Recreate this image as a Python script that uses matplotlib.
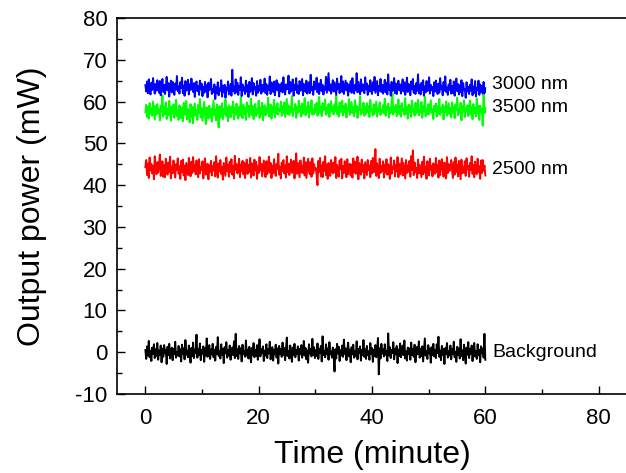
import numpy as np
import matplotlib
matplotlib.use("Agg")
import matplotlib.pyplot as plt
from matplotlib.ticker import MultipleLocator

plt.rcParams['font.family'] = ['Liberation Sans', 'DejaVu Sans']
plt.rcParams['axes.unicode_minus'] = False

power_3000 = [
    63.9, 62.4, 64.8, 62.0, 65.3, 63.1, 61.7, 64.5, 62.8, 65.6, 63.4, 61.9, 64.2, 62.6, 65.1, 63.7, 62.1, 64.9, 61.5, 63.8,
    65.4, 62.3, 64.0, 61.8, 63.5, 65.9, 62.7, 64.4, 61.2, 63.9, 65.0, 62.2, 64.7, 63.0, 61.6, 64.3, 62.9, 66.1, 62.5, 63.6,
    61.9, 64.6, 63.2, 65.7, 62.0, 63.8, 61.4, 64.9, 62.6, 63.3, 65.2, 61.7, 64.1, 62.8, 65.5, 63.6, 62.3, 64.4, 61.1, 63.9,
    64.8, 62.5, 63.7, 61.6, 65.0, 62.9, 64.3, 61.3, 63.5, 62.1, 64.7, 62.4, 63.9, 61.0, 64.5, 62.7, 63.2, 65.4, 61.8, 63.0,
    62.2, 64.1, 60.6, 63.4, 62.0, 64.6, 61.5, 63.1, 62.6, 65.1, 61.2, 63.8, 62.3, 64.0, 60.9, 63.3, 62.7, 64.8, 61.7, 62.9,
    64.2, 61.4, 67.6, 62.5, 63.6, 61.9, 65.3, 62.2, 64.5, 61.6, 63.7, 62.8, 65.8, 61.3, 64.1, 62.6, 63.4, 61.8, 65.0, 62.4,
    63.9, 61.1, 64.7, 62.3, 63.0, 65.6, 61.7, 64.4, 62.9, 63.5, 61.4, 64.9, 62.1, 63.8, 62.6, 65.2, 61.9, 64.0, 62.4, 63.3,
    65.5, 62.0, 64.2, 61.6, 63.7, 62.8, 66.0, 61.8, 64.6, 63.1, 62.3, 64.8, 61.5, 63.6, 65.1, 62.7, 64.3, 61.2, 63.9, 62.5,
    64.5, 62.2, 65.8, 63.0, 61.7, 64.1, 62.9, 63.6, 66.2, 61.9, 64.7, 62.4, 63.2, 65.3, 61.4, 64.0, 62.8, 65.6, 62.1, 63.8,
    61.8, 64.9, 62.6, 63.4, 65.4, 61.5, 64.2, 63.1, 62.3, 65.0, 61.9, 63.7, 64.6, 62.0, 66.4, 62.7, 63.5, 61.6, 64.8, 62.9,
    63.6, 65.7, 62.2, 64.3, 61.8, 63.9, 65.2, 62.5, 64.0, 61.7, 63.4, 62.8, 65.9, 62.1, 64.5, 66.8, 62.6, 64.1, 61.9, 63.7,
    65.1, 62.4, 64.6, 63.0, 61.6, 65.5, 62.9, 64.2, 62.0, 63.8, 66.1, 62.3, 64.8, 61.8, 63.5, 65.0, 62.7, 64.4, 61.4, 63.9,
    62.6, 64.9, 62.1, 65.6, 63.3, 61.9, 64.0, 62.8, 66.8, 62.2, 64.7, 63.1, 61.7, 65.3, 62.5, 64.1, 63.6, 62.0, 65.8, 62.9,
    64.3, 61.6, 63.8, 62.4, 65.1, 63.0, 61.8, 64.6, 62.7, 65.9, 62.1, 63.5, 64.9, 61.5, 63.7, 62.6, 65.4, 62.3, 64.0, 61.9,
    63.4, 65.2, 62.2, 64.5, 61.7, 66.5, 62.8, 63.9, 61.4, 64.7, 62.5, 63.2, 65.6, 62.0, 64.3, 61.8, 63.6, 65.0, 62.7, 64.1,
    61.9, 63.8, 65.3, 62.4, 64.6, 61.6, 63.1, 65.7, 62.3, 64.2, 63.0, 61.5, 64.8, 62.9, 65.4, 62.1, 63.7, 61.8, 64.4, 62.6,
    66.5, 62.0, 63.9, 61.7, 64.5, 62.8, 65.1, 61.4, 63.6, 62.2, 64.9, 62.5, 63.3, 65.8, 61.9, 64.0, 62.7, 63.5, 61.3, 64.6,
    62.4, 65.0, 63.2, 61.8, 64.3, 62.1, 65.6, 62.9, 63.8, 61.5, 64.7, 62.6, 66.0, 62.3, 63.4, 61.6, 64.1, 62.8, 65.2, 61.9,
    63.7, 62.0, 64.8, 61.4, 63.1, 65.5, 62.5, 64.2, 61.7, 63.9, 62.2, 65.1, 61.3, 64.4, 62.7, 63.0, 60.9, 64.6, 62.4, 63.5,
    61.8, 64.0, 62.6, 65.3, 61.5, 63.6, 62.1, 64.9, 61.2, 63.3, 62.8, 65.0, 61.6, 64.1, 62.3, 63.7, 61.9, 64.7, 62.0, 63.2,
]

power_3500 = [
    57.4, 59.2, 56.3, 58.7, 55.9, 59.6, 57.1, 58.4, 56.6, 60.0, 57.8, 55.7, 58.9, 56.9, 59.4, 57.3, 58.1, 55.5, 59.0, 57.6,
    61.5, 56.4, 58.6, 57.0, 59.8, 55.8, 58.3, 56.7, 60.2, 57.5, 55.4, 58.8, 57.2, 59.3, 56.1, 58.0, 60.4, 56.5, 57.9, 55.6,
    59.1, 57.4, 56.0, 58.5, 55.3, 59.7, 57.0, 56.8, 60.1, 55.7, 58.2, 57.6, 55.0, 59.4, 56.3, 58.7, 54.8, 57.9, 59.5, 56.6,
    58.0, 55.6, 59.2, 57.3, 60.6, 56.2, 58.4, 55.4, 57.7, 59.9, 56.9, 54.6, 58.6, 57.1, 55.9, 59.0, 56.4, 58.3, 55.2, 57.8,
    60.3, 56.7, 58.1, 55.5, 59.3, 57.4, 53.8, 58.9, 56.1, 57.6, 59.6, 55.8, 58.2, 57.0, 60.5, 56.5, 58.6, 55.3, 59.1, 57.5,
    56.2, 58.8, 57.2, 60.0, 55.7, 58.4, 56.9, 59.5, 57.3, 55.9, 58.7, 56.6, 61.0, 57.8, 56.0, 59.2, 57.1, 58.5, 55.6, 59.8,
    57.6, 59.0, 56.3, 58.3, 60.7, 56.8, 58.9, 55.8, 57.9, 59.4, 56.5, 58.1, 57.3, 60.2, 56.1, 58.6, 57.0, 59.7, 55.5, 58.2,
    59.1, 56.7, 58.5, 57.4, 60.9, 56.4, 58.0, 59.3, 55.9, 58.7, 57.5, 60.4, 56.2, 58.8, 57.1, 59.6, 56.9, 58.3, 57.7, 60.0,
    56.6, 58.9, 57.2, 59.8, 56.3, 58.4, 60.6, 57.0, 59.1, 56.8, 58.6, 57.5, 61.3, 56.5, 58.2, 57.9, 59.4, 56.1, 58.7, 57.3,
    60.2, 57.6, 58.9, 56.4, 59.5, 57.1, 58.3, 60.8, 56.7, 58.6, 57.4, 59.9, 56.2, 58.8, 57.8, 60.3, 56.9, 58.1, 57.0, 59.2,
    57.5, 59.7, 56.6, 58.4, 61.1, 57.3, 58.8, 56.5, 59.6, 57.9, 58.2, 60.5, 56.8, 58.5, 57.2, 59.4, 56.3, 58.9, 60.1, 57.6,
    58.7, 56.9, 59.3, 57.7, 61.5, 57.0, 58.6, 56.4, 59.8, 57.4, 58.1, 60.2, 56.7, 58.9, 57.5, 59.5, 56.2, 58.4, 57.8, 60.6,
    56.8, 58.3, 59.9, 57.2, 58.7, 56.5, 60.3, 57.6, 59.0, 56.1, 58.5, 57.9, 61.2, 56.9, 58.2, 57.3, 59.7, 56.6, 58.8, 57.1,
    59.6, 57.5, 58.9, 56.3, 60.4, 57.8, 58.1, 56.7, 59.3, 57.0, 58.6, 60.0, 56.4, 58.3, 57.7, 59.8, 56.8, 58.0, 57.4, 59.1,
    57.2, 60.7, 56.6, 58.8, 57.9, 59.5, 56.2, 58.4, 57.3, 60.1, 62.0, 56.9, 58.7, 57.6, 59.2, 56.5, 58.2, 60.5, 57.0, 58.9,
    56.4, 59.6, 57.7, 58.3, 56.8, 60.8, 57.1, 58.6, 55.9, 59.3, 57.5, 58.9, 56.3, 60.2, 57.8, 58.1, 56.6, 59.7, 57.2, 58.5,
    60.4, 56.7, 58.0, 57.4, 59.9, 56.1, 58.8, 57.6, 61.1, 56.5, 58.3, 57.0, 59.4, 56.9, 58.6, 60.3, 57.3, 58.2, 55.8, 59.0,
    57.7, 59.5, 56.4, 58.9, 57.1, 60.6, 56.8, 58.4, 57.5, 59.2, 55.7, 58.7, 57.3, 60.0, 56.6, 58.1, 59.6, 57.0, 58.5, 56.2,
    59.8, 57.4, 58.6, 56.0, 59.3, 57.9, 60.9, 56.7, 58.2, 57.2, 59.7, 55.5, 58.8, 57.6, 60.3, 56.3, 58.4, 57.8, 59.1, 56.5,
    58.0, 60.2, 56.9, 58.7, 55.8, 59.4, 57.3, 58.5, 56.4, 60.7, 57.1, 58.9, 55.6, 59.0, 57.5, 58.3, 54.2, 62.1, 57.2, 58.4,
]

power_2500 = [
    44.3, 46.0, 42.4, 45.2, 41.7, 46.6, 43.5, 45.1, 42.8, 44.6, 41.4, 46.9, 43.9, 42.6, 45.5, 43.0, 44.9, 47.3, 42.2, 44.1,
    45.7, 42.0, 44.8, 41.9, 46.3, 43.6, 42.5, 45.4, 43.2, 46.8, 41.6, 44.4, 42.9, 45.9, 43.3, 41.8, 45.0, 43.7, 46.4, 42.7,
    44.5, 41.5, 45.8, 43.1, 46.1, 42.3, 44.7, 41.2, 45.3, 43.8, 42.4, 46.5, 44.0, 42.1, 45.6, 42.9, 46.7, 43.4, 44.8, 42.6,
    45.9, 43.1, 41.9, 46.2, 42.8, 44.3, 43.6, 45.7, 41.6, 44.2, 46.4, 42.5, 43.9, 45.1, 41.4, 44.7, 43.2, 45.8, 42.3, 44.6,
    43.5, 45.5, 42.1, 46.9, 43.8, 41.8, 45.2, 43.3, 46.0, 42.7, 44.4, 41.3, 45.3, 43.7, 42.2, 46.6, 43.4, 44.9, 42.0, 45.6,
    43.1, 46.2, 42.5, 44.6, 41.6, 47.0, 43.7, 45.0, 42.8, 44.1, 46.3, 41.9, 44.9, 43.4, 45.8, 42.6, 45.4, 41.7, 44.2, 46.1,
    42.7, 44.8, 43.2, 46.5, 41.8, 45.2, 43.9, 42.3, 46.1, 43.5, 45.6, 41.5, 44.5, 42.9, 46.7, 43.6, 45.1, 42.1, 44.0, 45.9,
    43.3, 41.9, 45.7, 42.6, 44.3, 46.8, 43.0, 45.3, 41.7, 44.6, 42.8, 46.2, 43.7, 42.2, 45.0, 43.8, 47.5, 42.5, 44.4, 41.6,
    45.4, 43.4, 46.0, 42.8, 44.7, 41.8, 46.9, 43.1, 45.1, 42.4, 44.5, 46.1, 42.9, 43.6, 45.8, 41.6, 44.2, 47.6, 42.7, 45.3,
    43.5, 41.9, 45.9, 43.0, 44.6, 42.9, 46.6, 42.3, 45.5, 41.7, 44.0, 46.3, 43.3, 42.6, 45.6, 42.0, 46.4, 42.8, 45.0, 43.7,
    44.1, 42.5, 40.0, 45.8, 43.2, 46.5, 42.1, 44.7, 41.9, 45.6, 43.4, 46.9, 42.4, 44.9, 41.5, 45.3, 43.6, 42.2, 46.0, 43.9,
    42.8, 45.4, 43.1, 46.7, 41.7, 44.8, 43.5, 42.0, 45.9, 43.8, 46.3, 41.6, 44.5, 42.9, 45.7, 43.3, 41.9, 46.2, 42.6, 44.6,
    45.1, 42.3, 44.9, 41.8, 46.4, 43.0, 45.6, 42.7, 44.2, 46.8, 41.4, 45.3, 43.7, 42.5, 46.1, 43.2, 44.8, 41.6, 45.5, 43.9,
    42.4, 46.0, 43.6, 44.7, 41.9, 45.8, 42.8, 46.5, 43.1, 44.3, 48.6, 42.2, 45.2, 43.8, 41.7, 46.3, 42.9, 44.6, 43.4, 45.7,
    41.8, 44.9, 43.0, 46.2, 42.5, 45.0, 43.7, 41.5, 46.6, 42.7, 44.4, 43.9, 45.9, 42.1, 44.8, 43.3, 46.7, 41.9, 45.1, 42.6,
    44.5, 46.4, 42.3, 45.3, 43.5, 41.6, 46.0, 42.9, 44.7, 43.2, 45.8, 42.0, 46.9, 43.6, 48.3, 42.4, 45.4, 43.1, 44.1, 41.7,
    46.1, 42.8, 44.9, 43.4, 41.9, 45.6, 42.6, 46.8, 43.0, 44.4, 41.5, 45.7, 43.8, 42.3, 46.3, 43.7, 44.6, 42.1, 45.2, 43.3,
    42.7, 46.5, 43.1, 44.8, 41.8, 45.9, 42.4, 44.5, 46.2, 43.6, 42.0, 45.4, 43.9, 41.6, 46.7, 42.9, 45.0, 43.4, 44.2, 46.0,
    43.5, 41.7, 45.5, 42.5, 46.6, 43.2, 44.9, 42.1, 45.8, 43.7, 41.4, 46.1, 42.8, 44.3, 43.0, 45.7, 42.2, 46.4, 43.8, 44.6,
    42.0, 45.3, 43.6, 46.9, 42.7, 44.8, 41.9, 45.6, 43.3, 42.6, 46.3, 43.1, 44.5, 41.5, 45.9, 42.9, 46.0, 43.4, 44.7, 42.3,
]

power_background = [
    0.5, -1.6, 1.4, -0.8, 2.7, -1.2, 0.3, -2.1, 1.1, -0.4, 1.9, -1.4, 0.7, -0.9, 2.2, -1.8, 0.4, -0.6, 1.6, -2.4,
    0.9, -1.1, 1.7, -0.3, 0.6, -2.8, 1.3, -0.7, 2.0, -1.5, 0.2, 1.1, -1.9, 0.8, -0.5, 2.5, -1.3, 0.1, -0.8, 1.5,
    -1.0, 0.7, -2.2, 1.8, -0.4, 0.9, -1.7, 2.9, -0.6, 0.4, -1.2, 1.6, -0.2, -2.5, 1.0, -0.9, 2.3, -1.4, 0.6, -0.1,
    4.2, -1.3, 0.8, -0.7, 2.1, -1.9, 0.5, -0.3, 1.4, -2.3, 0.9, -0.8, 3.3, -1.1, 0.2, 1.7, -1.6, 0.7, -0.5, 2.0,
    -1.2, 0.6, -2.0, 1.3, -0.4, 3.6, -0.9, 0.3, -1.5, 1.9, -0.6, 0.8, -2.6, 1.2, -0.2, 2.4, -1.3, 0.5, -0.8, 1.6,
    -1.8, 0.4, 1.1, -0.7, 2.6, -1.4, 4.4, -0.9, 0.7, -1.6, 1.5, -0.3, 0.9, -2.2, 1.8, -0.5, 0.2, -1.1, 2.8, -0.8,
    0.6, -1.5, 1.3, -0.4, -2.4, 1.0, -0.6, 2.2, -1.2, 0.5, -0.9, 1.7, -1.8, 0.3, 3.1, -1.0, 0.8, -0.2, 1.4, -2.1,
    0.4, -0.8, 1.9, -1.4, 0.7, -0.3, 2.5, -1.7, 0.1, 1.2, -2.0, 0.6, -0.5, 1.8, -1.3, 0.9, -2.7, 1.5, -0.4, 0.8,
    -1.1, 2.3, -0.6, 1.0, -1.9, 0.5, 3.5, -0.9, 0.3, -1.5, 1.6, -0.2, -2.3, 1.1, -0.7, 2.0, -1.2, 0.6, -0.4, 1.4,
    -2.0, 0.8, -0.5, 1.7, -1.3, 0.2, 2.7, -0.8, 1.0, -1.7, 0.4, -2.5, 1.9, -0.3, 0.7, -1.0, 3.2, -0.6, 1.2, -1.4,
    0.5, -0.9, 2.1, -1.6, 0.8, -0.2, 1.5, -2.2, 3.8, -0.7, 0.3, -1.2, 1.9, -0.4, 0.9, -1.8, 2.4, -0.5, 0.2, -1.3,
    1.1, -0.6, -4.6, 0.7, -1.5, 2.0, -0.3, 1.3, -2.1, 0.5, -0.8, 1.6, -1.1, 3.0, -0.4, 0.9, -1.9, 0.4, 2.3, -1.0,
    0.6, -2.4, 1.2, -0.5, 1.8, -1.3, 0.3, -0.9, 2.6, -1.7, 0.8, -0.2, 1.4, -2.0, 0.5, -0.6, 2.9, -1.1, 0.7, -1.6,
    1.5, -0.7, 0.2, -1.8, 2.2, -0.4, 1.0, -2.3, 0.6, -0.9, 1.7, -1.2, 0.4, 3.4, -5.3, 0.9, -1.5, 2.0, -0.3, 0.7,
    -1.0, 1.9, -0.6, 0.3, -2.1, 4.5, -0.8, 1.2, -1.4, 0.5, -0.2, 2.4, -1.7, 0.8, -0.5, 1.5, -2.6, 0.6, -0.9, 2.1,
    -1.2, 0.4, 1.6, -0.7, 2.8, -1.5, 0.2, -2.0, 1.1, -0.4, 0.9, -1.8, 2.3, -0.6, 0.7, -1.1, 1.8, -2.4, 0.3, 1.3,
    -0.5, 2.6, -1.3, 0.8, -0.9, 1.4, -2.2, 0.5, 3.3, -0.8, 0.2, -1.6, 1.7, -0.3, 0.9, -2.5, 1.2, -0.7, 2.0, -1.0,
    0.6, -1.4, 1.9, -0.2, 3.7, -1.1, 0.4, -1.9, 1.5, -0.6, 0.8, -2.8, 1.0, -0.4, 2.2, -1.3, 0.3, -0.8, 1.6, -1.7,
    0.7, -0.5, 2.5, -1.2, 0.1, -2.3, 1.3, -0.7, 0.9, -1.5, 3.1, -0.9, 0.4, -1.9, 1.8, -0.3, -2.7, 1.1, -0.6, 2.4,
    -1.4, 0.8, -0.4, 1.6, -2.1, 0.5, 2.2, -1.0, 0.3, -1.6, 1.9, -0.7, 0.6, -2.4, 1.4, -0.2, 0.9, -1.3, 4.4, -1.8,
]

time_min = np.linspace(0, 60, len(power_3000))

labels = ["3000 nm", "3500 nm", "2500 nm", "Background"]
colors = ["#0000ff", "#00ff00", "#ff0000", "#000000"]
label_y = [64.0, 58.5, 43.8, 0.0]

fig = plt.figure(figsize=(6.26, 4.73), dpi=100)
ax = fig.add_axes([0.187, 0.167, 0.8145, 0.795])

series = [power_3000, power_3500, power_2500, power_background]
order = [3, 2, 1, 0]
for i in order:
    ax.plot(time_min, series[i], color=colors[i], lw=1.4)

for i in range(4):
    ax.text(61.2, label_y[i], labels[i], fontsize=14,
            va='center', ha='left', color='black')

ax.set_xlim(-5, 85)
ax.set_ylim(-10, 80)
ax.xaxis.set_major_locator(MultipleLocator(20))
ax.xaxis.set_minor_locator(MultipleLocator(10))
ax.yaxis.set_major_locator(MultipleLocator(10))
ax.yaxis.set_minor_locator(MultipleLocator(5))
ax.tick_params(which='both', direction='in', top=False, right=False, width=1)
ax.tick_params(which='major', length=6, labelsize=16)
ax.tick_params(axis='x', which='major', pad=10)
ax.tick_params(axis='y', which='major', pad=7)
ax.tick_params(which='minor', length=3.5)
ax.spines['right'].set_visible(False)
for s in ['left', 'bottom', 'top']:
    ax.spines[s].set_linewidth(1.2)

ax.set_xlabel("Time (minute)", fontsize=23, labelpad=8)
ax.set_ylabel("Output power (mW)", fontsize=23, labelpad=20)

fig.savefig("out.png", dpi=100)
